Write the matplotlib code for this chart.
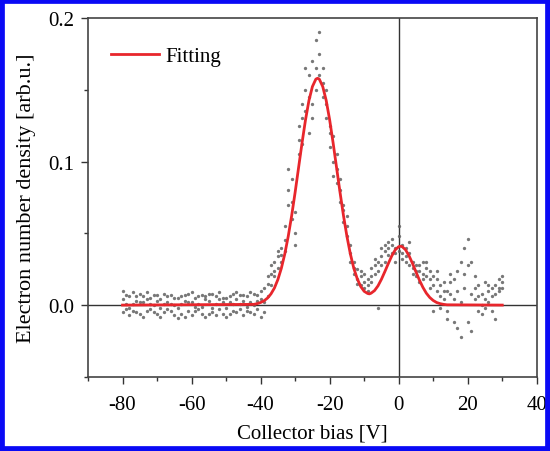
"""Electron number density vs collector bias, with the two-peak fitting curve."""

import matplotlib

matplotlib.use("Agg")
import matplotlib.pyplot as plt
from matplotlib.patches import Rectangle
from matplotlib.ticker import MultipleLocator

# Measured points: three readings per bias step (V).
bias = [
    -80, -79, -78, -77, -76, -75, -74, -73, -72, -71,
    -70, -69, -68, -67, -66, -65, -64, -63, -62, -61,
    -60, -59, -58, -57, -56, -55, -54, -53, -52, -51,
    -50, -49, -48, -47, -46, -45, -44, -43, -42, -41,
    -40, -39, -38, -37, -36, -35, -34, -33, -32, -31,
    -30, -29, -28, -27, -26, -25, -24, -23, -22, -21,
    -20, -19, -18, -17, -16, -15, -14, -13, -12, -11,
    -10, -9, -8, -7, -6, -5, -4, -3, -2, -1,
    0, 1, 2, 3, 4, 5, 6, 7, 8, 9,
    10, 11, 12, 13, 14, 15, 16, 17, 18, 19,
    20, 21, 22, 23, 24, 25, 26, 27, 28, 29, 30,
]
reading_a = [
    0.004, -0.003, 0.006, 0.001, -0.005, 0.008, 0.002, -0.004, 0.005, 0.000,
    0.003, -0.002, 0.001, 0.006, -0.004, 0.000, 0.005, -0.006, 0.003, 0.008,
    0.002, -0.004, 0.006, -0.001, 0.004, -0.006, 0.008, 0.001, -0.003, 0.005,
    -0.002, 0.006, 0.001, -0.005, 0.007, 0.003, -0.004, 0.002, 0.008, -0.003,
    0.004, 0.002, 0.015, 0.022, 0.030, 0.026, 0.040, 0.045, 0.080, 0.088,
    0.050, 0.115, 0.130, 0.150, 0.120, 0.170, 0.165, 0.190, 0.155, 0.140,
    0.120, 0.118, 0.095, 0.080, 0.066, 0.055, 0.042, 0.030, 0.025, 0.020,
    0.016, 0.010, 0.020, 0.028, 0.024, 0.034, 0.038, 0.040, 0.042, 0.036,
    0.048, 0.036, 0.030, 0.044, 0.026, 0.020, 0.016, 0.022, 0.026, 0.012,
    -0.004, 0.018, 0.006, 0.004, -0.004, 0.016, -0.012, 0.024, 0.030, 0.040,
    0.046, 0.030, 0.020, 0.014, 0.008, 0.016, 0.010, 0.012, 0.014, 0.018, 0.020,
]
reading_b = [
    -0.005, 0.007, -0.002, 0.009, 0.003, -0.006, 0.006, 0.004, -0.003, 0.007,
    -0.006, 0.004, -0.005, -0.003, 0.007, -0.007, -0.002, 0.006, -0.008, 0.002,
    -0.007, 0.005, -0.003, 0.007, -0.008, 0.003, -0.002, 0.006, 0.004, -0.006,
    0.005, -0.006, 0.008, 0.004, -0.003, -0.007, 0.006, -0.005, 0.000, 0.007,
    -0.008, 0.012, 0.006, 0.014, 0.024, 0.034, 0.030, 0.055, 0.095, 0.060,
    0.065, 0.125, 0.112, 0.165, 0.145, 0.140, 0.185, 0.160, 0.145, 0.150,
    0.125, 0.100, 0.105, 0.072, 0.058, 0.048, 0.036, 0.022, 0.018, 0.014,
    0.022, 0.018, 0.026, 0.022, -0.002, 0.028, 0.030, 0.035, 0.036, 0.030,
    0.038, 0.032, 0.040, 0.028, 0.030, 0.028, 0.024, 0.018, 0.020, 0.024,
    0.014, 0.010, 0.014, 0.010, 0.010, 0.022, 0.018, -0.016, -0.022, 0.022,
    -0.012, 0.008, 0.004, -0.004, 0.000, 0.004, 0.002, -0.004, -0.010, 0.010, 0.016,
]
reading_c = [
    0.010, 0.001, -0.007, -0.004, 0.006, 0.002, -0.008, 0.009, 0.001, -0.005,
    0.007, -0.008, 0.008, 0.002, 0.001, 0.005, -0.009, 0.001, 0.007, -0.004,
    0.009, -0.001, 0.001, -0.006, 0.006, 0.008, -0.005, -0.007, 0.009, 0.002,
    -0.008, 0.002, -0.004, 0.009, 0.001, 0.007, -0.001, 0.009, -0.006, 0.003,
    0.010, -0.005, 0.020, 0.028, 0.020, 0.038, 0.035, 0.038, 0.070, 0.072,
    0.042, 0.105, 0.140, 0.135, 0.160, 0.130, 0.150, 0.175, 0.165, 0.130,
    0.110, 0.090, 0.085, 0.088, 0.070, 0.062, 0.030, 0.026, 0.015, 0.024,
    0.012, 0.014, 0.016, 0.032, 0.030, 0.040, 0.042, 0.044, 0.046, 0.040,
    0.055, 0.042, 0.034, 0.036, 0.022, 0.024, 0.028, 0.030, 0.030, 0.018,
    0.020, 0.024, -0.002, 0.016, -0.010, 0.008, 0.004, 0.010, 0.002, 0.012,
    0.028, -0.018, 0.012, 0.006, -0.006, -0.002, 0.014, 0.006, 0.008, 0.012, 0.012,
]

# Fitting curve.
fit_bias = [
    -80, -42, -41, -40, -39, -38, -37, -36, -35, -34, -33, -32, -31, -30,
    -29, -28, -27, -26, -25, -24, -23.5, -23, -22, -21, -20, -19, -18, -17,
    -16, -15, -14, -13, -12, -11, -10, -9, -8.5, -8, -7, -6, -5, -4, -3,
    -2, -1, 0, 0.5, 1, 2, 3, 4, 5, 6, 7, 8, 9, 10, 11, 12, 13, 14, 30,
]
fit_density = [
    0.0, 0.0005, 0.0010, 0.0018, 0.0030, 0.0049, 0.0078, 0.0119, 0.0178,
    0.0256, 0.0356, 0.0479, 0.0624, 0.0786, 0.0958, 0.1130, 0.1290, 0.1425,
    0.1522, 0.1574, 0.1580, 0.1574, 0.1522, 0.1425, 0.1290, 0.1130, 0.0958,
    0.0786, 0.0624, 0.0479, 0.0356, 0.0256, 0.0183, 0.0129, 0.0096, 0.0081,
    0.0078, 0.0083, 0.0101, 0.0134, 0.0180, 0.0234, 0.0290, 0.0343, 0.0385,
    0.0407, 0.0410, 0.0407, 0.0385, 0.0343, 0.0290, 0.0231, 0.0174, 0.0124,
    0.0083, 0.0053, 0.0032, 0.0018, 0.0010, 0.0005, 0.0002, 0.0,
]

x_ticks = [-80, -60, -40, -20, 0, 20, 40]
y_ticks = [0.0, 0.1, 0.2]

plt.rcParams["font.family"] = ["Liberation Serif", "DejaVu Serif"]
plt.rcParams["axes.unicode_minus"] = False

fig = plt.figure(figsize=(5.5, 4.52), dpi=100)
ax = fig.add_axes([0.16, 0.164, 0.816, 0.794])

for readings in (reading_a, reading_b, reading_c):
    ax.plot(bias, readings, "o", color="#606060", markersize=2.4,
            markeredgewidth=0, alpha=0.85)

ax.axhline(0, color="#333333", linewidth=1.0, zorder=1)
ax.axvline(0, color="#333333", linewidth=1.0, zorder=1)

ax.plot(fit_bias, fit_density, color="#e8262c", linewidth=2.0, label="Fitting",
        zorder=3)

ax.set_xlim(-90, 40)
ax.set_ylim(-0.05, 0.2)
ax.set_xticks(x_ticks)
ax.set_yticks(y_ticks)
ax.set_yticklabels([f"{v:.1f}" for v in y_ticks])
ax.xaxis.set_minor_locator(MultipleLocator(10))
ax.yaxis.set_minor_locator(MultipleLocator(0.05))
ax.tick_params(which="both", direction="out", width=1.0, color="#333333",
               labelsize=15)
ax.tick_params(which="major", length=5)
ax.tick_params(which="minor", length=3)
ax.tick_params(axis="x", pad=8)
ax.tick_params(axis="y", pad=5)
for spine in ax.spines.values():
    spine.set_color("#444444")
    spine.set_linewidth(1.2)

ax.set_xlabel("Collector bias [V]", fontsize=15, labelpad=7)
ax.set_ylabel("Electron number density [arb.u.]", fontsize=16, labelpad=9)

ax.legend(loc="center left", bbox_to_anchor=(0.01, 0.894), frameon=False,
          fontsize=15, handlelength=2.3, handletextpad=0.3)

# blue frame round the whole picture
fig.patches.append(Rectangle((0, 0), 1, 1, transform=fig.transFigure,
                             fill=False, edgecolor="#0a0af5", linewidth=7))

fig.savefig("out.png", dpi=100)
